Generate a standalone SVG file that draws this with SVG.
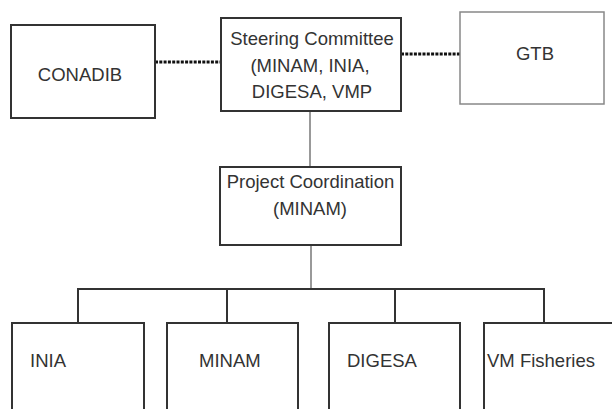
<svg xmlns="http://www.w3.org/2000/svg" width="612" height="409" viewBox="0 0 612 409">
<style>
.box{fill:#fff;stroke:#333;stroke-width:2}
.light{fill:#fff;stroke:#888;stroke-width:1.5}
.t{font-family:"Liberation Sans",Arial,sans-serif;font-size:18.5px;fill:#333}
.c{text-anchor:middle}
.thin{stroke:#555;stroke-width:1.2;fill:none}
.bus{stroke:#333;stroke-width:2;fill:none}
.dot{stroke:#111;stroke-width:3;stroke-dasharray:3 1.3;fill:none}
</style>
<rect width="612" height="409" fill="#fff"/>
<g id="connectors">
<line class="dot" x1="155" y1="62" x2="221" y2="62"/>
<line class="dot" x1="401" y1="54" x2="460" y2="54"/>
<line class="thin" x1="310" y1="111" x2="310" y2="167"/>
<line class="thin" x1="311" y1="245" x2="311" y2="289"/>
<path class="bus" d="M78 323 V289 H544 V323 M227 289 V323 M395 289 V323"/>
</g>
<g id="conadib">
<rect class="box" x="11" y="25" width="144" height="93"/>
<text class="t c" x="80" y="81">CONADIB</text>
</g>
<g id="steering">
<rect class="box" x="221" y="18" width="180" height="93"/>
<text class="t c" x="312" y="45">Steering Committee</text>
<text class="t c" x="310" y="72">(MINAM, INIA,</text>
<text class="t c" x="312" y="98">DIGESA, VMP</text>
</g>
<g id="gtb">
<rect class="light" x="460" y="12" width="144" height="92"/>
<text class="t c" x="535" y="60">GTB</text>
</g>
<g id="project">
<rect class="box" x="220" y="167" width="181" height="78"/>
<text class="t c" x="310.5" y="188">Project Coordination</text>
<text class="t c" x="310" y="215">(MINAM)</text>
</g>
<g id="inia">
<rect class="box" x="12" y="323" width="132" height="100"/>
<text class="t" x="30" y="367">INIA</text>
</g>
<g id="minam">
<rect class="box" x="167" y="323" width="131" height="100"/>
<text class="t" x="199" y="367">MINAM</text>
</g>
<g id="digesa">
<rect class="box" x="329" y="323" width="131" height="100"/>
<text class="t" x="347" y="367">DIGESA</text>
</g>
<g id="vm">
<rect class="box" x="484" y="323" width="150" height="100"/>
<text class="t" x="487" y="367">VM Fisheries</text>
</g>
</svg>
